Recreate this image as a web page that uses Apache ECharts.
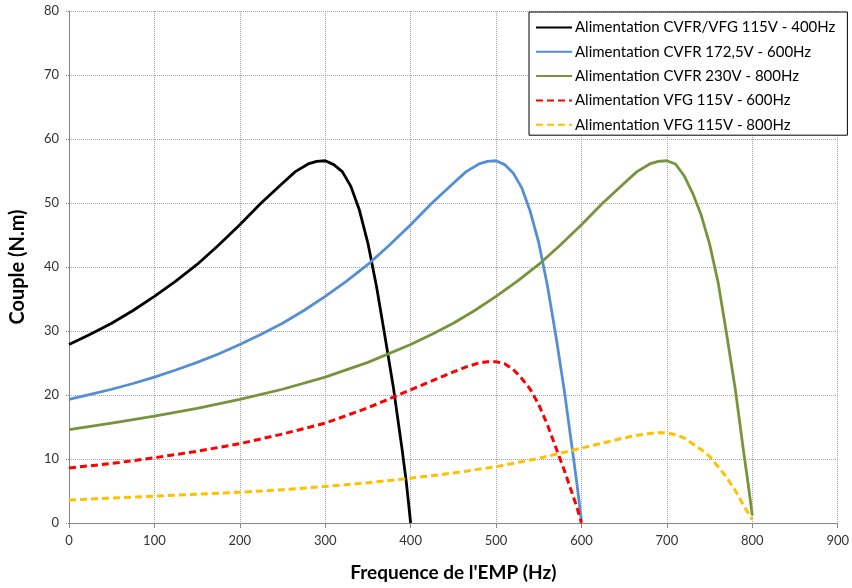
<!DOCTYPE html>
<html>
<head>
<meta charset="utf-8">
<script src="https://cdn.jsdelivr.net/npm/echarts@6/dist/echarts.min.js"></script>
<style>
html, body { margin: 0; padding: 0; background: #fff; }
#main { width: 852px; height: 588px; }
</style>
</head>
<body>
<div id="main"></div>
<script>
// Couple (N.m), en fonction de la frequence de l'EMP (Hz)
var names = [
    'Alimentation CVFR/VFG 115V - 400Hz',
    'Alimentation CVFR 172,5V - 600Hz',
    'Alimentation CVFR 230V - 800Hz',
    'Alimentation VFG 115V - 600Hz',
    'Alimentation VFG 115V - 800Hz'
];

var freq400 = [0, 25, 50, 75, 100, 125, 150, 175, 200, 225, 250, 265, 280, 290, 300, 310, 320, 330, 340, 350, 360, 370, 380, 390, 395, 400];
var cvfr400 = [27.9, 29.5, 31.2, 33.2, 35.4, 37.8, 40.4, 43.4, 46.6, 50.0, 53.1, 54.9, 56.1, 56.5, 56.6, 56.0, 54.9, 52.6, 48.9, 43.7, 37.0, 29.1, 21.0, 11.5, 6.3, 0];

var freqCvfr600 = [0, 25, 50, 75, 100, 125, 150, 175, 200, 225, 250, 275, 300, 325, 350, 375, 400, 425, 450, 465, 480, 490, 500, 510, 520, 530, 540, 550, 560, 570, 580, 590, 595, 600];
var cvfr600 = [19.3, 20.1, 20.9, 21.8, 22.8, 23.9, 25.1, 26.4, 27.9, 29.5, 31.2, 33.2, 35.4, 37.8, 40.4, 43.4, 46.6, 50.0, 53.1, 54.9, 56.1, 56.5, 56.6, 56.0, 54.7, 52.4, 48.7, 43.8, 37.2, 29.3, 20.6, 10.8, 5.8, 0.3];

var freqCvfr800 = [0, 50, 100, 150, 200, 250, 300, 350, 400, 425, 450, 475, 500, 525, 550, 575, 600, 625, 650, 665, 680, 690, 700, 710, 720, 730, 740, 750, 760, 770, 780, 790, 795, 800];
var cvfr800 = [14.6, 15.6, 16.7, 17.9, 19.3, 20.9, 22.8, 25.1, 27.9, 29.5, 31.2, 33.2, 35.4, 37.8, 40.4, 43.4, 46.6, 50.0, 53.1, 54.9, 56.1, 56.5, 56.6, 56.1, 54.3, 51.6, 48.2, 43.6, 37.6, 29.5, 21.0, 11.0, 6.3, 1.2];

var freqVfg600 = [0, 50, 100, 150, 200, 250, 300, 350, 400, 425, 450, 465, 480, 490, 500, 510, 520, 530, 540, 550, 560, 570, 580, 590, 595, 600];
var vfg600 = [8.6, 9.3, 10.2, 11.2, 12.4, 13.9, 15.6, 18.0, 20.8, 22.2, 23.6, 24.4, 25.0, 25.2, 25.2, 24.9, 24.0, 22.6, 20.9, 18.5, 15.4, 11.8, 8.2, 4.3, 2.3, 0];

var freqVfg800 = [0, 50, 100, 150, 200, 250, 300, 350, 400, 450, 500, 550, 600, 625, 650, 665, 680, 690, 700, 710, 720, 730, 740, 750, 760, 770, 780, 790, 795, 800];
var vfg800 = [3.6, 3.9, 4.2, 4.5, 4.8, 5.2, 5.7, 6.3, 7.0, 7.8, 8.8, 10.1, 11.7, 12.5, 13.3, 13.7, 14.0, 14.1, 14.1, 13.8, 13.3, 12.4, 11.5, 10.4, 8.8, 7.1, 5.1, 2.7, 1.6, 0.5];

function pairs(xs, ys){
    return xs.map(function(x, i){ return [x, ys[i]]; });
}

var font = 'Lato, "Open Sans", sans-serif';

function line(name, xs, ys, color, dashed){
    return {
        name: name,
        type: 'line',
        data: pairs(xs, ys),
        symbol: 'none',
        smooth: false,
        lineStyle: {
            color: color,
            width: dashed ? 3 : 2.8,
            type: dashed ? [7, 4] : 'solid',
            join: 'round'
        },
        itemStyle: { color: color }
    };
}

var chart = echarts.init(document.getElementById('main'));
var option = {
    backgroundColor: '#fff',
    animation: false,
    grid: {
        left: 69,
        right: 12,
        top: 11,
        bottom: 65
    },
    legend: {
        data: names,
        orient: 'vertical',
        left: 529,
        top: 12,
        padding: [8, 12, 3, 6],
        itemWidth: 36,
        itemHeight: 14,
        itemGap: 9.3,
        backgroundColor: '#fff',
        borderColor: '#000',
        borderWidth: 1,
        itemStyle: { opacity: 0 },
        textStyle: {
            fontFamily: font,
            fontSize: 15,
            color: '#000',
            padding: [0, 0, 0, -2]
        }
    },
    xAxis: {
        type: 'value',
        min: 0,
        max: 900,
        interval: 100,
        name: "Frequence de l'EMP (Hz)",
        nameLocation: 'middle',
        nameGap: 40,
        nameTextStyle: {
            fontFamily: font,
            fontSize: 19,
            fontWeight: 'bold',
            color: '#000'
        },
        axisLine: { lineStyle: { color: '#868686', width: 1 } },
        axisTick: { show: true, length: 5, lineStyle: { color: '#868686' } },
        axisLabel: {
            fontFamily: font,
            fontSize: 13,
            color: '#333',
            margin: 11
        },
        splitLine: {
            show: true,
            lineStyle: { color: '#a6a6a6', type: 'dotted', width: 1 }
        }
    },
    yAxis: {
        type: 'value',
        min: 0,
        max: 80,
        interval: 10,
        name: 'Couple (N.m)',
        nameLocation: 'middle',
        nameGap: 41,
        nameTextStyle: {
            fontFamily: font,
            fontSize: 20,
            fontWeight: 'bold',
            color: '#000'
        },
        axisLine: { show: true, lineStyle: { color: '#868686', width: 1 } },
        axisTick: { show: true, length: 4, lineStyle: { color: '#868686', type: 'dotted' } },
        axisLabel: {
            fontFamily: font,
            fontSize: 13,
            color: '#333',
            margin: 10
        },
        splitLine: {
            show: true,
            lineStyle: { color: '#a6a6a6', type: 'dotted', width: 1 }
        }
    },
    series: [
        line(names[0], freq400, cvfr400, '#000000', false),
        line(names[1], freqCvfr600, cvfr600, '#558ED5', false),
        line(names[2], freqCvfr800, cvfr800, '#77933C', false),
        line(names[3], freqVfg600, vfg600, '#FF0000', true),
        line(names[4], freqVfg800, vfg800, '#FFC000', true)
    ]
};
chart.setOption(option);
</script>
</body>
</html>
